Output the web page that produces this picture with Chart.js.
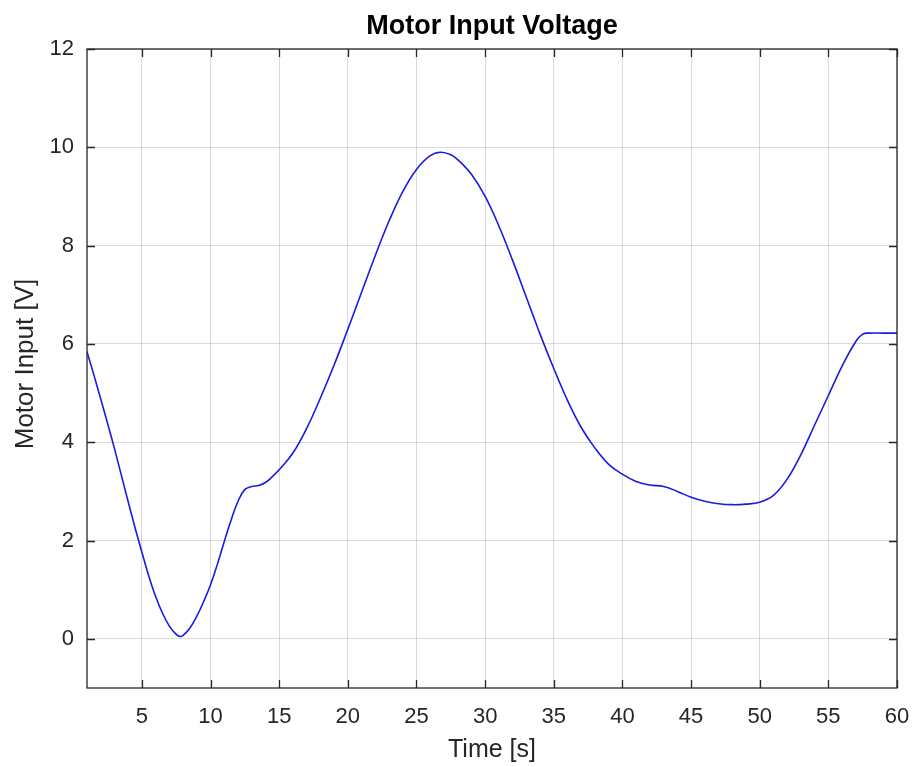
<!DOCTYPE html>
<html>
<head>
<meta charset="utf-8">
<script src="https://cdn.jsdelivr.net/npm/chart.js@4/dist/chart.umd.min.js"></script>
<style>
html,body{margin:0;padding:0;background:#fff;}
canvas{display:block;}
</style>
</head>
<body>
<canvas id="c" width="913" height="767"></canvas>
<script>
const times = [1,1.5,2,2.5,3,3.5,4,4.5,5,5.5,6,6.5,7,7.5,7.75,8,8.5,9,9.5,10,10.5,11,11.5,12,12.5,13,13.5,14,14.5,15,16,17,18,19,20,21,22,23,24,25,26,26.75,27.5,28,29,30,31,32,33,34,35,36,37,38,39,40,41,42,43,44,45,46,47,48,49,50,51,52,53,54,55,56,57,57.5,58,59,60];
const volts = [5.84,5.37,4.88,4.38,3.87,3.33,2.79,2.26,1.76,1.28,0.86,0.52,0.26,0.09,0.05,0.07,0.22,0.46,0.76,1.1,1.52,1.98,2.42,2.8,3.04,3.1,3.12,3.18,3.3,3.44,3.78,4.28,4.9,5.57,6.3,7.05,7.8,8.5,9.1,9.55,9.83,9.9,9.85,9.75,9.45,9.0,8.4,7.7,6.95,6.2,5.5,4.85,4.3,3.88,3.55,3.35,3.2,3.13,3.1,3.0,2.88,2.8,2.75,2.73,2.74,2.78,2.92,3.25,3.75,4.35,4.95,5.55,6.05,6.2,6.22,6.22,6.22];
const xTicks = [5,10,15,20,25,30,35,40,45,50,55,60];
const yTicks = [0,2,4,6,8,10,12];
const titleText = 'Motor Input Voltage';
const xLabel = 'Time [s]';
const yLabel = 'Motor Input [V]';

const FONT = "'Liberation Sans', Arial, Helvetica, sans-serif";
const TXT = '#262626';

const decor = {
  id: 'decor',
  afterDraw(chart) {
    const ctx = chart.ctx, a = chart.chartArea;
    const xs = chart.scales.x, ys = chart.scales.y;
    ctx.save();
    ctx.strokeStyle = TXT;
    ctx.lineWidth = 1.3;
    ctx.beginPath();
    const tl = 8;
    xTicks.forEach(v => {
      const px = Math.round(xs.getPixelForValue(v)) + 0.5;
      ctx.moveTo(px, a.bottom); ctx.lineTo(px, a.bottom - tl);
      ctx.moveTo(px, a.top); ctx.lineTo(px, a.top + tl);
    });
    yTicks.forEach(v => {
      const py = Math.round(ys.getPixelForValue(v)) + 0.5;
      ctx.moveTo(a.left, py); ctx.lineTo(a.left + tl, py);
      ctx.moveTo(a.right, py); ctx.lineTo(a.right - tl, py);
    });
    ctx.stroke();
    ctx.strokeRect(a.left, a.top, a.right - a.left, a.bottom - a.top);
    ctx.fillStyle = '#000';
    ctx.textAlign = 'center';
    ctx.textBaseline = 'middle';
    ctx.font = 'bold 27px ' + FONT;
    const cx = (a.left + a.right) / 2;
    ctx.fillText(titleText, cx, 27);
    ctx.fillStyle = TXT;
    ctx.font = '25px ' + FONT;
    ctx.fillText(xLabel, cx, 750);
    ctx.font = '26px ' + FONT;
    ctx.translate(26, 364);
    ctx.rotate(-Math.PI / 2);
    ctx.fillText(yLabel, 0, 0);
    ctx.restore();
  }
};

new Chart(document.getElementById('c'), {
  type: 'line',
  data: {
    datasets: [{
      data: times.map((t, i) => ({x: t, y: volts[i]})),
      borderColor: '#1a1ae0',
      borderWidth: 1.6,
      pointRadius: 0,
      fill: false,
      tension: 0.4
    }]
  },
  options: {
    responsive: false,
    animation: false,
    layout: {padding: {top: 49, right: 16, left: 0, bottom: 0}},
    plugins: {legend: {display: false}, tooltip: {enabled: false}, title: {display: false}},
    scales: {
      x: {
        type: 'linear', min: 1, max: 60,
        afterBuildTicks: s => { s.ticks = xTicks.map(v => ({value: v})); },
        afterFit: s => { s.height = 79; s.paddingLeft = 0; s.paddingRight = 0; },
        grid: {color: 'rgba(0,0,0,0.14)', drawTicks: false},
        border: {display: false},
        ticks: {color: TXT, font: {family: FONT, size: 22}, padding: 16, maxRotation: 0, autoSkip: false}
      },
      y: {
        type: 'linear', min: -1, max: 12,
        afterBuildTicks: s => { s.ticks = yTicks.map(v => ({value: v})); },
        afterFit: s => { s.width = 87; s.paddingTop = 0; s.paddingBottom = 0; },
        grid: {color: 'rgba(0,0,0,0.14)', drawTicks: false},
        border: {display: false},
        ticks: {color: TXT, font: {family: FONT, size: 22}, padding: 13}
      }
    }
  },
  plugins: [decor]
});
</script>
</body>
</html>
